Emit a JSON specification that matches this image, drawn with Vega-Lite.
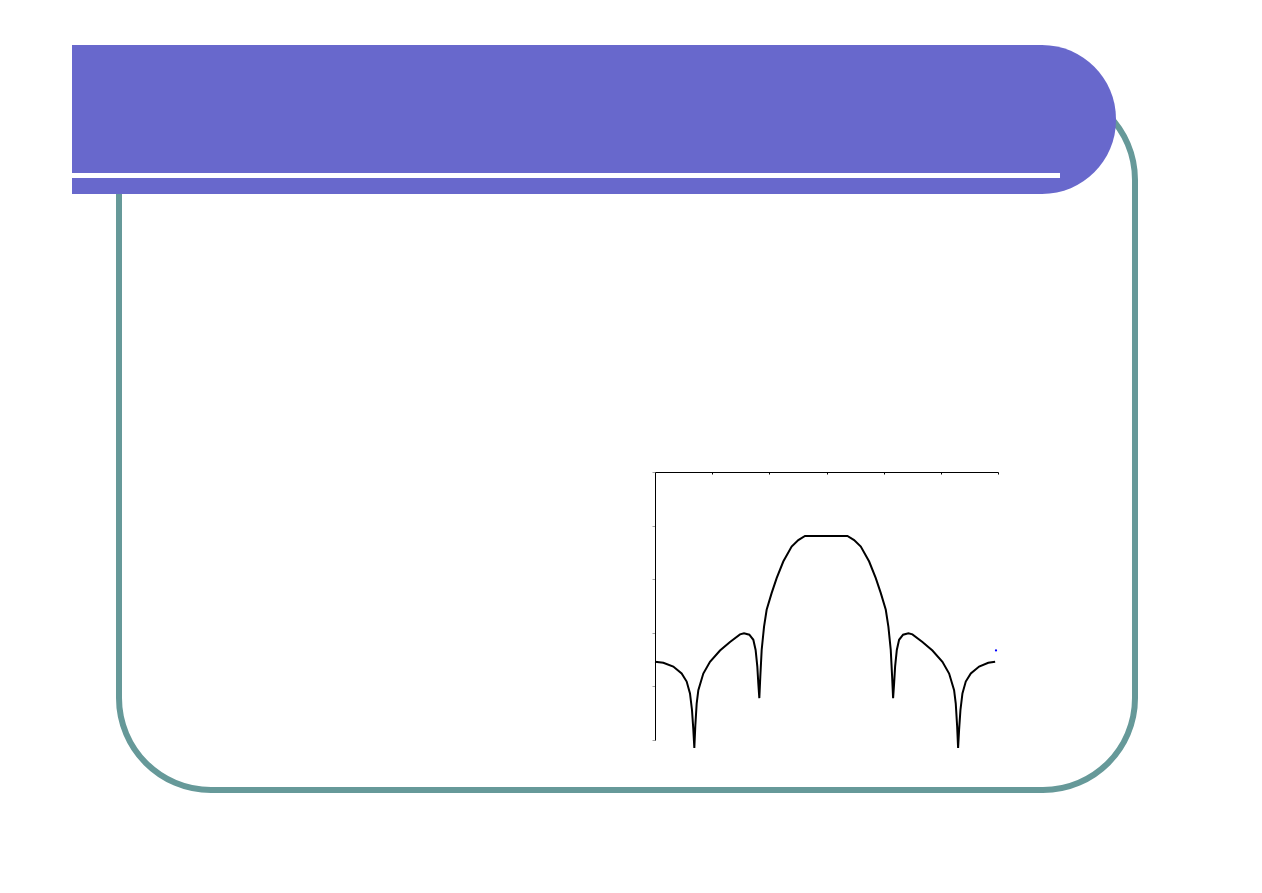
{
  "$schema": "https://vega.github.io/schema/vega-lite/v6.json",
  "width": 1262,
  "height": 893,
  "padding": 0,
  "autosize": {"type": "none"},
  "background": "white",
  "config": {"view": {"stroke": null}},
  "datasets": {
    "slide": [
      {"part": "frame", "x0": 119, "x1": 1135, "y0": 88, "y1": 790},
      {"part": "banner", "x0": 72, "x1": 1116, "y0": 45, "y1": 194},
      {"part": "stripe", "x0": 72, "x1": 1060, "y0": 173, "y1": 178}
    ],
    "pattern": [
      {"x": 0, "y": 1.46}, {"x": 0.146, "y": 1.44}, {"x": 0.32, "y": 1.37},
      {"x": 0.466, "y": 1.24}, {"x": 0.554, "y": 1.09}, {"x": 0.612, "y": 0.87},
      {"x": 0.647, "y": 0.56}, {"x": 0.67, "y": 0.2}, {"x": 0.688, "y": -0.15},
      {"x": 0.705, "y": 0.26}, {"x": 0.729, "y": 0.68}, {"x": 0.758, "y": 0.93},
      {"x": 0.845, "y": 1.24}, {"x": 0.962, "y": 1.46}, {"x": 1.137, "y": 1.67},
      {"x": 1.312, "y": 1.83}, {"x": 1.487, "y": 1.97}, {"x": 1.557, "y": 1.99},
      {"x": 1.65, "y": 1.965}, {"x": 1.72, "y": 1.87}, {"x": 1.76, "y": 1.68},
      {"x": 1.79, "y": 1.37}, {"x": 1.807, "y": 1.06}, {"x": 1.825, "y": 0.78},
      {"x": 1.842, "y": 1.18}, {"x": 1.866, "y": 1.68}, {"x": 1.907, "y": 2.11},
      {"x": 1.953, "y": 2.43}, {"x": 2.04, "y": 2.74}, {"x": 2.128, "y": 3.02},
      {"x": 2.244, "y": 3.33}, {"x": 2.39, "y": 3.61}, {"x": 2.507, "y": 3.73},
      {"x": 2.624, "y": 3.806}, {"x": 3.366, "y": 3.806}, {"x": 3.483, "y": 3.73},
      {"x": 3.6, "y": 3.61}, {"x": 3.746, "y": 3.33}, {"x": 3.862, "y": 3.02},
      {"x": 3.95, "y": 2.74}, {"x": 4.037, "y": 2.43}, {"x": 4.083, "y": 2.11},
      {"x": 4.124, "y": 1.68}, {"x": 4.148, "y": 1.18}, {"x": 4.165, "y": 0.78},
      {"x": 4.183, "y": 1.06}, {"x": 4.2, "y": 1.37}, {"x": 4.23, "y": 1.68},
      {"x": 4.27, "y": 1.87}, {"x": 4.34, "y": 1.965}, {"x": 4.433, "y": 1.99},
      {"x": 4.503, "y": 1.97}, {"x": 4.678, "y": 1.83}, {"x": 4.853, "y": 1.67},
      {"x": 5.028, "y": 1.46}, {"x": 5.145, "y": 1.24}, {"x": 5.232, "y": 0.93},
      {"x": 5.261, "y": 0.68}, {"x": 5.285, "y": 0.26}, {"x": 5.302, "y": -0.15},
      {"x": 5.32, "y": 0.2}, {"x": 5.343, "y": 0.56}, {"x": 5.378, "y": 0.87},
      {"x": 5.436, "y": 1.09}, {"x": 5.524, "y": 1.24}, {"x": 5.67, "y": 1.37},
      {"x": 5.83, "y": 1.44}, {"x": 5.95, "y": 1.46}
    ],
    "marker": [{"x": 5.965, "y": 1.67}]
  },
  "layer": [
    {
      "data": {"name": "slide"},
      "encoding": {
        "x": {"field": "x0", "type": "quantitative", "scale": {"domain": [0, 1262], "nice": false, "zero": false}, "axis": null},
        "x2": {"field": "x1"},
        "y": {"field": "y0", "type": "quantitative", "scale": {"domain": [0, 893], "nice": false, "zero": false, "reverse": true}, "axis": null},
        "y2": {"field": "y1"}
      },
      "layer": [
        {
          "transform": [{"filter": "datum.part === 'frame'"}],
          "mark": {"type": "rect", "fill": "white", "stroke": "#669999", "strokeWidth": 6, "cornerRadius": 92}
        },
        {
          "transform": [{"filter": "datum.part === 'banner'"}],
          "mark": {"type": "rect", "color": "#6868CC", "cornerRadiusTopRight": 74, "cornerRadiusBottomRight": 74}
        },
        {
          "transform": [{"filter": "datum.part === 'stripe'"}],
          "mark": {"type": "rect", "color": "white"}
        }
      ]
    },
    {
      "encoding": {
        "x": {
          "field": "x", "type": "quantitative",
          "scale": {"domain": [0, 6], "range": [655, 998], "nice": false, "zero": false},
          "axis": {"orient": "top", "values": [0, 1, 2, 3, 4, 5, 6], "labels": false, "title": null, "grid": false,
                   "zindex": 1, "domainColor": "black", "domainWidth": 1, "tickColor": "black", "tickSize": -2, "offset": -472}
        },
        "y": {
          "field": "y", "type": "quantitative",
          "scale": {"domain": [0, 5], "range": [740, 472], "nice": false, "zero": false},
          "axis": {"orient": "left", "values": [0, 1, 2, 3, 4, 5], "labels": false, "title": null, "grid": false,
                   "zindex": 1, "domainColor": "black", "domainWidth": 1, "tickColor": "#a0a0a0", "tickSize": 3, "offset": -655}
        }
      },
      "layer": [
        {
          "data": {"name": "pattern"},
          "mark": {"type": "line", "color": "black", "strokeWidth": 2, "interpolate": "linear", "clip": false}
        },
        {
          "data": {"name": "marker"},
          "mark": {"type": "point", "filled": true, "color": "blue", "size": 5, "opacity": 1}
        }
      ]
    }
  ],
  "resolve": {"scale": {"x": "independent", "y": "independent"}, "axis": {"x": "independent", "y": "independent"}}
}
